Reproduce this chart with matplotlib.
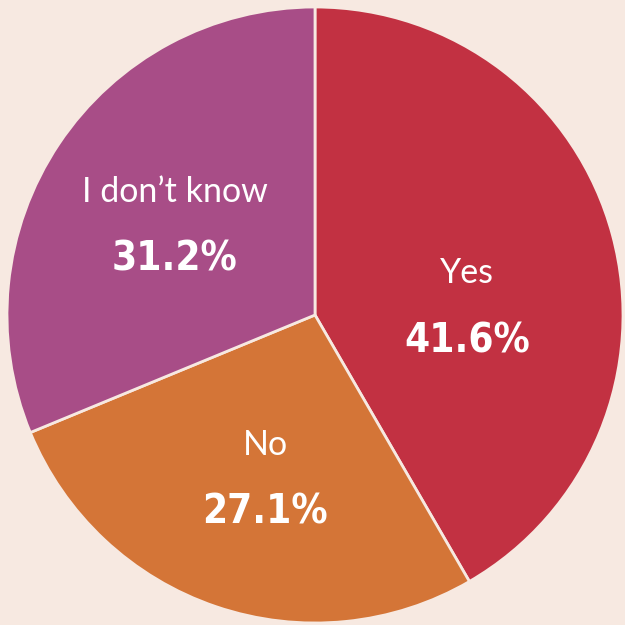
import numpy as np
import matplotlib.pyplot as plt

labels = ["Yes", "No", "I don\u2019t know"]
values = [41.6, 27.1, 31.2]
colors = ["#C23142", "#D47537", "#A84D87"]
bg = "#F7E9E1"

# text anchor points (data units, pie radius = 1)
label_xy = [(0.494, 0.104), (-0.162, -0.455), (-0.455, 0.367)]
pct_xy = [(0.494, -0.123), (-0.162, -0.676), (-0.455, 0.146)]

fig = plt.figure(figsize=(6.25, 6.25), dpi=100, facecolor=bg)
ax = fig.add_axes([0, 0, 1, 1])
ax.set_facecolor(bg)

ax.pie(values, colors=colors, startangle=90, counterclock=False,
       radius=1, wedgeprops=dict(edgecolor=bg, linewidth=2))

ax.set_xlim(-315 / 308, 310 / 308)
ax.set_ylim(-310 / 308, 315 / 308)
ax.set_aspect("equal")
ax.axis("off")

for lab, v, (lx, ly), (px, py) in zip(labels, values, label_xy, pct_xy):
    ax.text(lx, ly, lab, ha="center", va="baseline", color="white",
            fontsize=24.5, family="Lato")
    ax.text(px, py, f"{v:.1f}%", ha="center", va="baseline", color="white",
            fontsize=29, family="DejaVu Sans", fontstretch="condensed",
            fontweight="bold")

fig.savefig("out.png", dpi=100, facecolor=bg)
